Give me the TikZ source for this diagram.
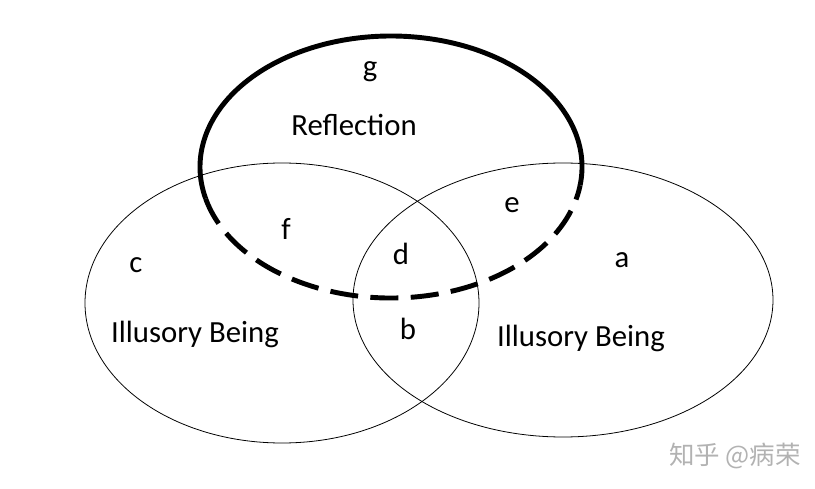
\documentclass[tikz,border=0pt]{standalone}
\usepackage{fontspec}
\setmainfont{Carlito}
\newfontfamily\cjkfont{Noto Sans CJK SC}
\tikzset{
	lbl/.style={font=\fontsize{17.5}{20}\selectfont},
	thinring/.style={line width=0.45pt},
	thickring/.style={line width=2.8pt}
}
\begin{document}
\begin{tikzpicture}
		\useasboundingbox (0,0) rectangle (16.3,9.78);
		
		% Illusory Being (links und rechts)
		\draw[thinring] (5.64,3.72) ellipse (3.94 and 2.80);
		\draw[thinring] (11.26,3.78) ellipse (4.20 and 2.74);
		
		% Reflection (oben fest, unten gestrichelt)
		\draw[thickring] (7.82,6.44) ++(-8:3.82 and 2.62) arc (-8:194:3.82 and 2.62);
		\draw[thickring,dash pattern=on 16pt off 7pt] (7.82,6.44) ++(194:3.82 and 2.62) arc (194:352:3.82 and 2.62);
		
		\node[lbl] (g) at (7.40,8.34) {g};
		\node[lbl] (refl) at (7.08,7.28) {Reflection};
		\node[lbl] (f) at (5.72,5.20) {f};
		\node[lbl] (c) at (2.72,4.48) {c};
		\node[lbl] (d) at (8.02,4.70) {d};
		\node[lbl] (e) at (10.24,5.68) {e};
		\node[lbl] (a) at (12.44,4.58) {a};
		\node[lbl] (b) at (8.16,3.20) {b};
		\node[lbl] (illusL) at (3.90,3.10) {Illusory Being};
		\node[lbl] (illusR) at (11.62,3.02) {Illusory Being};
		
		% Wasserzeichen
		\node[text=black!30,font=\cjkfont\fontsize{14.5}{16}\selectfont] (mark) at (14.70,0.66) {知乎 @病荣};
		
	\end{tikzpicture}
\end{document}
